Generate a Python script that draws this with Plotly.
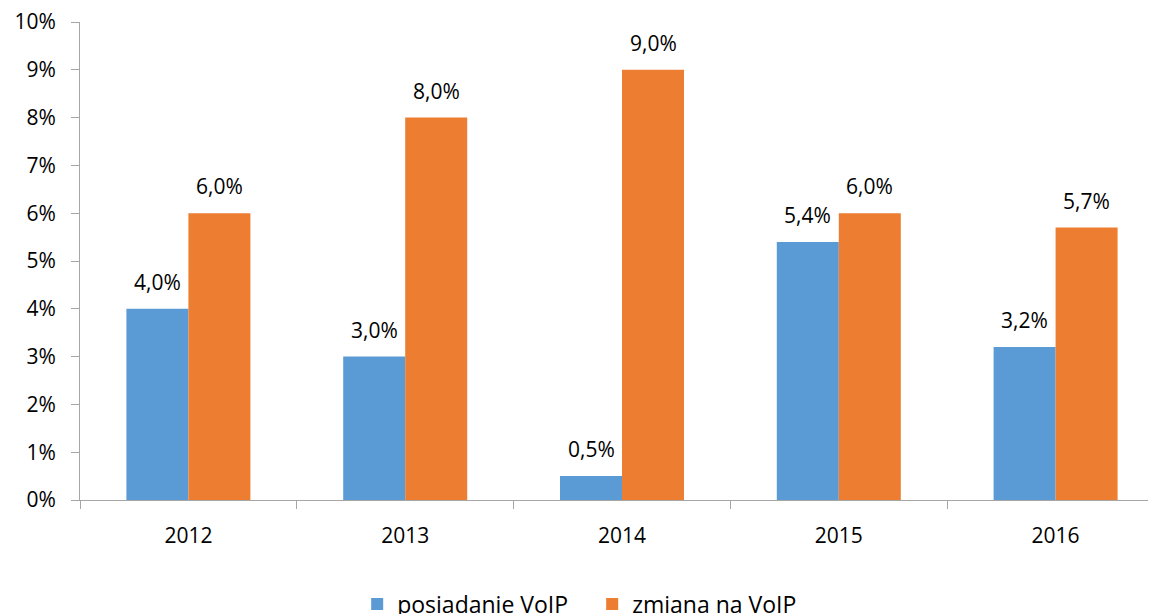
import plotly.graph_objects as go

years = ["2012", "2013", "2014", "2015", "2016"]
posiadanie = [0.040, 0.030, 0.005, 0.054, 0.032]
zmiana = [0.060, 0.080, 0.090, 0.060, 0.057]
names = ["posiadanie VoIP", "zmiana na VoIP"]
colors = ["#5B9BD5", "#ED7D31"]
y_ticks = [0.00, 0.01, 0.02, 0.03, 0.04, 0.05, 0.06, 0.07, 0.08, 0.09, 0.10]
y_tick_labels = ["0%", "1%", "2%", "3%", "4%", "5%", "6%", "7%", "8%", "9%", "10%"]

FONT = "Open Sans"
AXIS_COLOR = "#A6A6A6"

fig = go.Figure()
for name, vals, col in zip(names, [posiadanie, zmiana], colors):
    fig.add_trace(go.Bar(x=years, y=vals, name=name, marker=dict(color=col, line=dict(width=0))))

annotations = []
for vals, xshift in [(posiadanie, -31), (zmiana, 31)]:
    for i, v in enumerate(vals):
        annotations.append(dict(
            x=i, y=v, xref="x", yref="y", text=f"{v*100:.1f}%".replace(".", ","),
            showarrow=False, xshift=xshift, yshift=27, yanchor="middle", xanchor="center",
            font=dict(family=FONT, size=21, color="#000000")))

fig.update_layout(
    width=1156, height=614,
    margin=dict(l=72, r=0, t=14, b=122, autoexpand=False),
    plot_bgcolor="white", paper_bgcolor="white",
    barmode="group", bargap=0.428, bargroupgap=0,
    separators=",.",
    font=dict(family=FONT, size=21, color="#000000"),
    annotations=annotations,
    showlegend=True,
    legend=dict(orientation="h", x=0.4725, xanchor="center", y=-0.2176, yanchor="middle",
                entrywidth=190, entrywidthmode="pixels",
                font=dict(family=FONT, size=23, color="#000000"), traceorder="normal"),
    xaxis=dict(range=[-0.5, 4.5], type="category", showline=True, linecolor=AXIS_COLOR, linewidth=1,
               ticks="outside", tickson="boundaries", ticklen=8, tickcolor=AXIS_COLOR, automargin=False,
               showgrid=False, ticklabelstandoff=17, ticklabeloverflow="allow",
               tickfont=dict(family=FONT, size=21, color="#000")),
    yaxis=dict(range=[0, 0.10], tickmode="array", tickvals=y_ticks, ticktext=y_tick_labels,
               showline=True, automargin=False, ticklabeloverflow="allow",
               linecolor=AXIS_COLOR, linewidth=1, ticks="outside", ticklen=8, tickcolor=AXIS_COLOR,
               showgrid=False, zeroline=False, ticklabelstandoff=11,
               tickfont=dict(family=FONT, size=21, color="#000")),
)

fig.write_html("out.html")
